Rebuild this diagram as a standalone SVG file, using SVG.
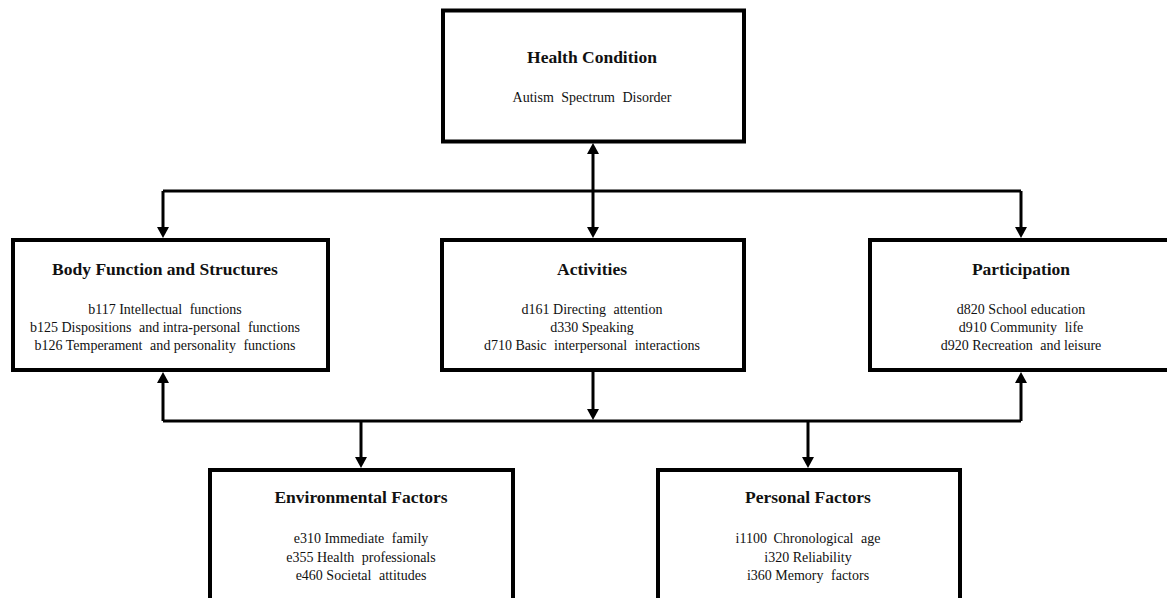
<svg xmlns="http://www.w3.org/2000/svg" width="1167" height="598" viewBox="0 0 1167 598">
  <style>
    .box { fill: #ffffff; stroke: #000000; stroke-width: 4; }
    .wire { fill: none; stroke: #000000; stroke-width: 3; }
    .arrow { marker-end: url(#head); }
    .both { marker-start: url(#head); marker-end: url(#head); }
    text { font-family: "Liberation Serif", "Times New Roman", serif; fill: #111111; text-anchor: middle; }
    .title { font-size: 17.5px; font-weight: bold; }
    .item { font-size: 14px; }
  </style>
  <defs>
    <marker id="head" viewBox="0 0 11 12" refX="6" refY="6" markerWidth="11" markerHeight="12" markerUnits="userSpaceOnUse" orient="auto-start-reverse">
      <path d="M0,0 L11,6 L0,12 Z" fill="#000000"/>
    </marker>
  </defs>

  <rect width="1167" height="598" fill="#ffffff"/>

  <!-- connectors -->
  <g id="connectors">
    <!-- health condition to activities, both directions -->
    <path class="wire both" d="M593,148 V233"/>
    <!-- upper distribution bar -->
    <path class="wire" d="M163,191 H1021"/>
    <path class="wire arrow" d="M163,191 V233"/>
    <path class="wire arrow" d="M1021,191 V233"/>
    <!-- lower distribution bar -->
    <path class="wire" d="M163,421 H1021"/>
    <path class="wire arrow" d="M163,421 V377"/>
    <path class="wire arrow" d="M1021,421 V377"/>
    <path class="wire arrow" d="M593,372 V415"/>
    <path class="wire arrow" d="M361,421 V463"/>
    <path class="wire arrow" d="M808,421 V463"/>
  </g>

  <g id="health-condition">
    <rect class="box" x="443" y="10.5" width="301" height="131"/>
    <text class="title" x="592" y="63">Health Condition</text>
    <text class="item" x="592" y="102" word-spacing="4">Autism Spectrum Disorder</text>
  </g>

  <g id="body-function">
    <rect class="box" x="13" y="240" width="315" height="130"/>
    <text class="title" x="165" y="275">Body Function and Structures</text>
    <text class="item" x="165" y="314">b117 Intellectual <tspan dx="4">functions</tspan></text>
    <text class="item" x="165" y="332">b125 Dispositions <tspan dx="4">and intra-personal </tspan><tspan dx="4">functions</tspan></text>
    <text class="item" x="165" y="350">b126 Temperament <tspan dx="4">and personality </tspan><tspan dx="4">functions</tspan></text>
  </g>

  <g id="activities">
    <rect class="box" x="442" y="240" width="302" height="130"/>
    <text class="title" x="592" y="275">Activities</text>
    <text class="item" x="592" y="314">d161 Directing <tspan dx="4">attention</tspan></text>
    <text class="item" x="592" y="332">d330 Speaking</text>
    <text class="item" x="592" y="350">d710 Basic <tspan dx="4">interpersonal </tspan><tspan dx="4">interactions</tspan></text>
  </g>

  <g id="participation">
    <rect class="box" x="870" y="240" width="310" height="130"/>
    <text class="title" x="1021" y="275">Participation</text>
    <text class="item" x="1021" y="314">d820 School education</text>
    <text class="item" x="1021" y="332">d910 Community <tspan dx="4">life</tspan></text>
    <text class="item" x="1021" y="350">d920 Recreation <tspan dx="4">and leisure</tspan></text>
  </g>

  <g id="environmental-factors">
    <rect class="box" x="210" y="470" width="303" height="200"/>
    <text class="title" x="361" y="503">Environmental Factors</text>
    <text class="item" x="361" y="543">e310 Immediate <tspan dx="4">family</tspan></text>
    <text class="item" x="361" y="561.5">e355 Health <tspan dx="4">professionals</tspan></text>
    <text class="item" x="361" y="580">e460 Societal <tspan dx="4">attitudes</tspan></text>
  </g>

  <g id="personal-factors">
    <rect class="box" x="658" y="470" width="302" height="200"/>
    <text class="title" x="808" y="503">Personal Factors</text>
    <text class="item" x="808" y="543">i1100 <tspan dx="3">Chronological </tspan><tspan dx="4">age</tspan></text>
    <text class="item" x="808" y="561.5">i320 Reliability</text>
    <text class="item" x="808" y="580">i360 Memory <tspan dx="4">factors</tspan></text>
  </g>
</svg>
